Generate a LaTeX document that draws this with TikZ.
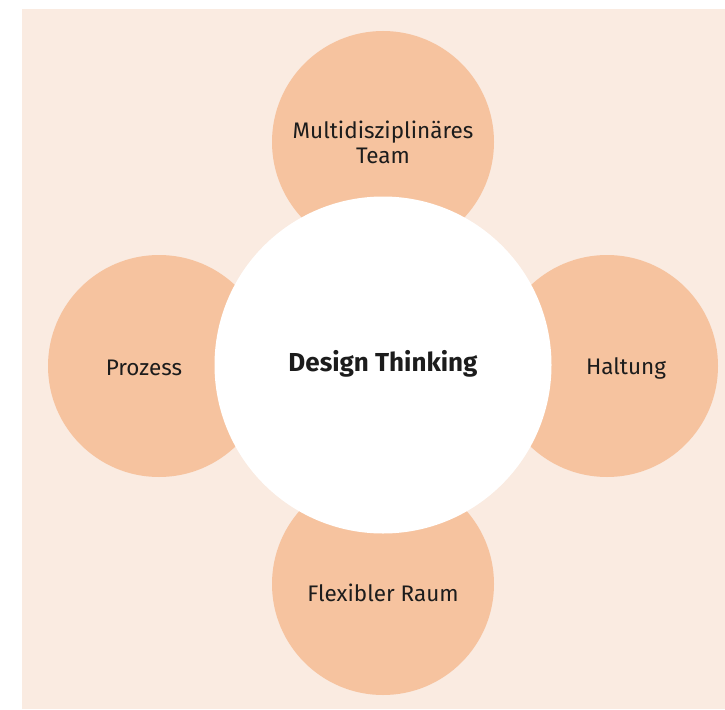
\documentclass[tikz,border=0pt]{standalone}
\usepackage{fontspec}
\setmainfont{Fira Sans}
\definecolor{paper}{HTML}{FAEBE1}
\definecolor{petal}{HTML}{F6C39F}
\definecolor{ink}{HTML}{1C1C1C}
\begin{document}
\begin{tikzpicture}[x=1pt, y=-1pt,
        petal/.style={circle, fill=petal, minimum size=222pt, inner sep=0pt},
        core/.style={circle, fill=white, minimum size=337pt, inner sep=0pt},
        label/.style={text=ink, align=center, inner sep=0pt,
            font=\fontsize{22.5}{25}\selectfont},
        title/.style={label, font=\fontsize{26}{28}\selectfont\bfseries}]
        % Background
        \useasboundingbox (0, 0) rectangle (725, 709);
        \fill[paper] (22, 9) rectangle (725, 709);

        % Outer circles
        \node[petal] (team) at (383, 142) {};
        \node[petal] (prozess) at (159, 366) {};
        \node[petal] (haltung) at (607, 366) {};
        \node[petal] (raum) at (383, 584) {};

        % Centre circle
        \node[core] (dt) at (383, 365) {};

        % Texts
        \node[label] (teamtext) at (383, 142) {Multidisziplinäres\\Team};
        \node[label] (prozesstext) at (144, 368) {Prozess};
        \node[label] (haltungtext) at (626, 368) {Haltung};
        \node[label] (raumtext) at (383, 593) {Flexibler Raum};
        \node[title] (dttext) at (383, 364) {Design Thinking};
\end{tikzpicture}
\end{document}
